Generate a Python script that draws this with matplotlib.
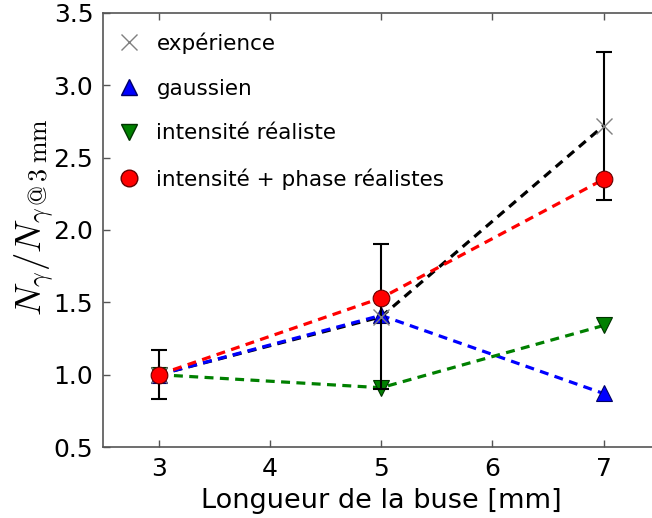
import matplotlib
matplotlib.use("Agg")
import matplotlib.pyplot as plt
from matplotlib.lines import Line2D

# ---- DATA ----
longueur = [3, 5, 7]
experience = [1.00, 1.40, 2.72]
experience_err = [0.17, 0.50, 0.51]
gaussien = [1.00, 1.41, 0.87]
intensite = [1.00, 0.91, 1.34]
intensite_phase = [1.00, 1.53, 2.35]

plt.rcParams["mathtext.fontset"] = "cm"

DASH = (2.8, 2.0)

fig = plt.figure(figsize=(6.52, 5.18), dpi=100)
ax = fig.add_axes([0.158, 0.137, 0.853, 0.838])

ax.plot(longueur, experience, "--", dashes=DASH, color="black", lw=2.3)
ax.plot(longueur, gaussien, "--", dashes=DASH, color="blue", lw=2.3,
        marker="^", ms=12, mfc="blue", mec="#000066", mew=0.8)
ax.plot(longueur, intensite, "--", dashes=DASH, color="green", lw=2.3,
        marker="v", ms=12, mfc="green", mec="#003300", mew=0.8)
ax.errorbar(longueur, experience, yerr=experience_err, fmt="none",
            ecolor="black", elinewidth=1.5, capsize=6, capthick=1.5)
ax.plot(longueur, experience, "x", color="gray", ms=12, mew=1)
ax.plot(longueur, intensite_phase, "--", dashes=DASH, color="red", lw=2.3,
        marker="o", ms=12, mfc="red", mec="#660000", mew=0.8)

ax.set_xlim(2.5, 7.5)
ax.set_ylim(0.5, 3.5)
ax.set_xticks([3, 4, 5, 6, 7])
ax.set_yticks([0.5, 1.0, 1.5, 2.0, 2.5, 3.0, 3.5])
ax.tick_params(direction="in", top=True, right=True, labelsize=18,
               length=5, width=1, color="#555555", pad=7)
for sp in ax.spines.values():
    sp.set_color("#555555")
    sp.set_linewidth(1.2)

ax.set_xlabel("Longueur de la buse [mm]", fontsize=19.5, labelpad=5)
ax.set_ylabel(r"$N_\gamma/N_{\gamma\,@\,3\;\mathrm{mm}}$", fontsize=26.5)
ax.yaxis.set_label_coords(-0.084, 0.53)

handles = [
    Line2D([], [], ls="none", marker="x", color="gray", ms=12, mew=1),
    Line2D([], [], ls="none", marker="^", mfc="blue", mec="#000066", ms=12),
    Line2D([], [], ls="none", marker="v", mfc="green", mec="#003300", ms=12),
    Line2D([], [], ls="none", marker="o", mfc="red", mec="#660000", ms=12),
]
labels = ["expérience", "gaussien", "intensité réaliste",
          "intensité + phase réalistes"]
ax.legend(handles, labels, loc="upper left", frameon=False, fontsize=15.5,
          numpoints=1, handlelength=1.1, handletextpad=0.72,
          labelspacing=1.15, borderaxespad=0.6,
          bbox_to_anchor=(-0.013, 1.005))

fig.savefig("out.png", dpi=100)
